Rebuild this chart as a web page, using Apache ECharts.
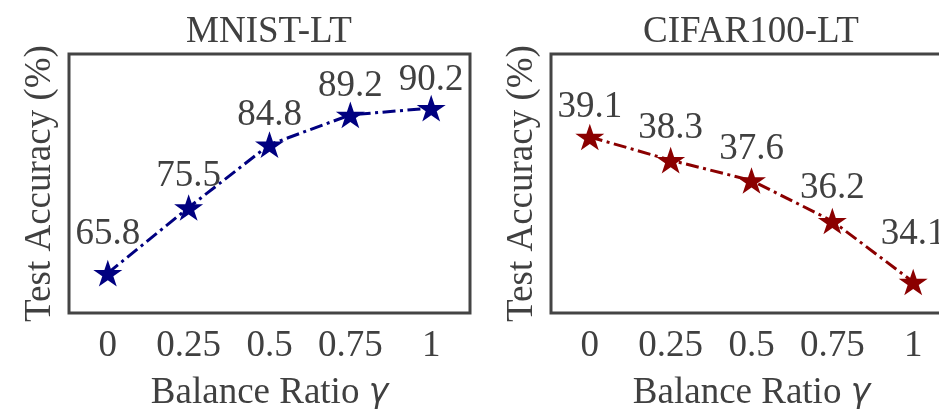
<!DOCTYPE html>
<html>
<head>
<meta charset="utf-8">
<script src="https://cdn.jsdelivr.net/npm/echarts@6/dist/echarts.min.js"></script>
<style>
  html, body { margin: 0; padding: 0; background: #fff; }
  #chart { width: 939px; height: 409px; }
</style>
</head>
<body>
<div id="chart"></div>
<script>
  // data
  const ratios = [0, 0.25, 0.5, 0.75, 1]
  const xTicks = [0, 0.25, 0.5, 0.75, 1]
  const mnistAcc = [65.8, 75.5, 84.8, 89.2, 90.2]
  const cifarAcc = [39.1, 38.3, 37.6, 36.2, 34.1]
  const titles = ['MNIST-LT', 'CIFAR100-LT']

  const FONT = 'Liberation Serif'
  const TEXT = '#404040'
  const STAR = 'path://M0,-100L22.45,-30.9L95.11,-30.9L36.33,11.8L58.78,80.9L0,38.2L-58.78,80.9L-36.33,11.8L-95.11,-30.9L-22.45,-30.9Z'

  const myChart = echarts.init(document.getElementById('chart'))

  /* 每个面板的布局 */
  const panels = [
    { left: 69, values: mnistAcc, color: '#000080', yMin: 59.9, yMax: 98.2, lift: [39, 31, 29, 29, 28] },
    { left: 551, values: cifarAcc, color: '#8b0000', yMin: 33.03, yMax: 41.96, lift: [30, 32, 31, 33, 48] }
  ]

  const option = {
    animation: false,
    backgroundColor: '#fff',
    title: panels.map((p, i) => ({
      text: titles[i],
      left: p.left + 200,
      top: 14,
      padding: 0,
      textAlign: 'center',
      textStyle: { fontFamily: FONT, fontSize: 37, fontWeight: 'normal', color: TEXT }
    })),
    grid: panels.map(p => ({
      left: p.left,
      top: 54,
      width: 401,
      height: 259,
      show: true,
      borderColor: '#444',
      borderWidth: 3,
      outerBoundsMode: 'none'
    })),
    xAxis: panels.map((p, i) => ({
      type: 'value',
      gridIndex: i,
      min: -0.12,
      max: 1.12,
      axisLine: { show: false },
      axisTick: { show: false },
      splitLine: { show: false },
      axisLabel: {
        customValues: xTicks,
        margin: 15,
        fontFamily: FONT,
        fontSize: 37,
        color: TEXT
      },
      name: '{a|Balance Ratio }{g|γ}',
      nameLocation: 'middle',
      nameGap: 62,
      nameTextStyle: {
        rich: {
          a: { fontFamily: FONT, fontSize: 37, color: TEXT },
          g: { fontFamily: 'DejaVu Sans', fontSize: 33, fontStyle: 'italic', color: TEXT }
        }
      }
    })),
    yAxis: panels.map((p, i) => ({
      type: 'value',
      gridIndex: i,
      min: p.yMin,
      max: p.yMax,
      axisLine: { show: false },
      axisTick: { show: false },
      axisLabel: { show: false },
      splitLine: { show: false },
      name: 'Test Accuracy (%)',
      nameLocation: 'middle',
      nameRotate: 90,
      nameGap: 10,
      nameTextStyle: { fontFamily: FONT, fontSize: 37, color: TEXT }
    })),
    series: panels.map((p, i) => ({
      type: 'line',
      xAxisIndex: i,
      yAxisIndex: i,
      data: ratios.map((r, k) => ({
        value: [r, p.values[k]],
        label: { offset: [0, -p.lift[k]] }
      })),
      symbol: STAR,
      symbolSize: [29, 28],
      symbolKeepAspect: true,
      itemStyle: { color: p.color },
      lineStyle: { color: p.color, width: 3, type: [13, 4.5, 3, 4.5] },
      label: {
        show: true,
        position: 'inside',
        formatter: d => d.value[1].toFixed(1),
        fontFamily: FONT,
        fontSize: 37,
        color: TEXT
      }
    }))
  }

  myChart.setOption(option)
</script>
</body>
</html>
